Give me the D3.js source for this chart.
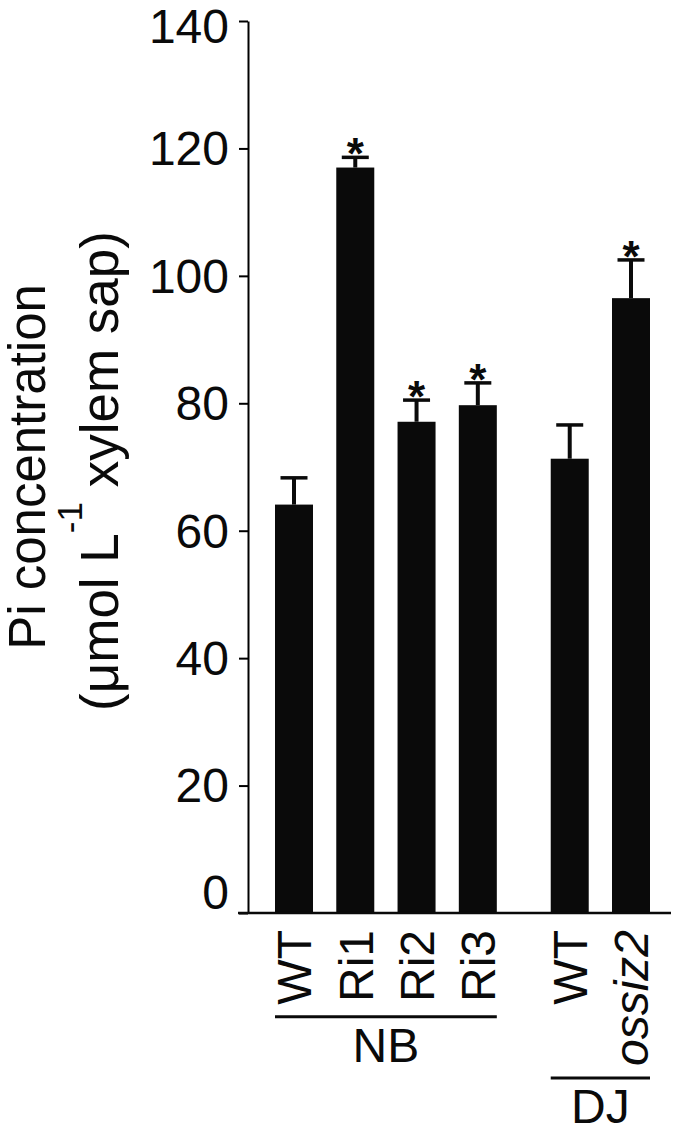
<!DOCTYPE html>
<html>
<head>
<meta charset="utf-8">
<script src="https://cdn.jsdelivr.net/npm/d3@7"></script>
<style>
  body { margin: 0; background: #fff; }
  text { font-family: "Liberation Sans", Arial, sans-serif; fill: #0a0a0a; }
</style>
</head>
<body>
<div id="chart-container"></div>
<script>
// data
const categories = ["WT", "Ri1", "Ri2", "Ri3", "WT", "ossiz2"];
const groups = ["NB", "NB", "NB", "NB", "DJ", "DJ"];
const italicLabel = [false, false, false, false, false, true];
const means = [64.1, 117.0, 77.1, 79.7, 71.3, 96.5];
const errors = [4.2, 1.6, 3.4, 3.5, 5.3, 6.0];
const significant = [false, true, true, true, false, true];
const yTicks = [0, 20, 40, 60, 80, 100, 120, 140];

const width = 675;
const height = 1137;
const axisX = 248;
const groupGap = 0.5;
const barWidth = 38;

// slot positions, with an extra gap between genotype groups
const slots = [];
groups.forEach((g, i) => {
  if (i === 0) slots.push(0);
  else slots.push(slots[i - 1] + 1 + (g !== groups[i - 1] ? groupGap : 0));
});

const data = categories.map((c, i) => ({
  name: c, group: groups[i], italic: italicLabel[i],
  mean: means[i], err: errors[i], sig: significant[i], slot: slots[i]
}));

const x = d3.scaleLinear([0, d3.max(slots)], [294, 631]);
const y = d3.scaleLinear([0, 140], [913, 21]);

const svg = d3.select("#chart-container")
  .append("svg")
  .attr("width", width)
  .attr("height", height)
  .attr("viewBox", [0, 0, width, height]);

// bars
svg.append("g")
  .attr("fill", "#0a0a0a")
  .selectAll("rect")
  .data(data)
  .join("rect")
  .attr("x", d => x(d.slot) - barWidth / 2)
  .attr("width", barWidth)
  .attr("y", d => y(d.mean))
  .attr("height", d => y(0) - y(d.mean));

// error bars (upper only)
const eb = svg.append("g").attr("stroke", "#0a0a0a");
eb.selectAll("line.stem")
  .data(data)
  .join("line")
  .attr("class", "stem")
  .attr("stroke-width", 4)
  .attr("x1", d => x(d.slot)).attr("x2", d => x(d.slot))
  .attr("y1", d => y(d.mean)).attr("y2", d => y(d.mean + d.err));
eb.selectAll("line.cap")
  .data(data)
  .join("line")
  .attr("class", "cap")
  .attr("stroke-width", 3.5)
  .attr("x1", d => x(d.slot) - 13.5).attr("x2", d => x(d.slot) + 13.5)
  .attr("y1", d => y(d.mean + d.err)).attr("y2", d => y(d.mean + d.err));

// significance stars
svg.append("g")
  .selectAll("text")
  .data(data.filter(d => d.sig))
  .join("text")
  .attr("text-anchor", "middle")
  .attr("font-weight", "bold")
  .attr("font-size", 44)
  .attr("x", d => x(d.slot))
  .attr("y", d => y(d.mean + d.err) + 12)
  .text("*");

// y axis
const yAxis = svg.append("g")
  .attr("transform", `translate(${axisX},0)`)
  .call(d3.axisLeft(y).tickValues(yTicks).tickSize(9).tickSizeOuter(0).tickPadding(10));
yAxis.select(".domain").attr("stroke-width", 2);
yAxis.selectAll(".tick line").attr("stroke-width", 2);
yAxis.selectAll(".tick text")
  .attr("font-size", 48)
  .attr("font-family", "Liberation Sans, Arial, sans-serif")
  .attr("fill", "#0a0a0a")
  .attr("dy", d => d === 0 ? "-0.1em" : d === 140 ? "0.45em" : "0.34em");

// x baseline
const lastRight = x(d3.max(slots)) + barWidth / 2;
svg.append("line")
  .attr("x1", axisX - 10).attr("x2", lastRight + 21)
  .attr("y1", y(0)).attr("y2", y(0))
  .attr("stroke", "#0a0a0a")
  .attr("stroke-width", 2.5);

// category labels, rotated
const labelTop = 930;
const labels = svg.append("g")
  .selectAll("text")
  .data(data)
  .join("text")
  .attr("transform", d => `translate(${x(d.slot)},${labelTop}) rotate(-90)`)
  .attr("text-anchor", "end")
  .attr("dy", "0.36em")
  .attr("font-size", 48)
  .attr("font-style", d => d.italic ? "italic" : "normal")
  .text(d => d.name);

const lengths = new Map();
labels.each(function (d) { lengths.set(d, this.getComputedTextLength()); });

// group brackets and names
const groupNames = Array.from(new Set(groups));
groupNames.forEach(g => {
  const members = data.filter(d => d.group === g);
  const left = x(d3.min(members, d => d.slot)) - barWidth / 2;
  const right = x(d3.max(members, d => d.slot)) + barWidth / 2;
  const lineY = labelTop + d3.max(members, d => lengths.get(d)) + 12;
  svg.append("line")
    .attr("x1", left).attr("x2", right)
    .attr("y1", lineY).attr("y2", lineY)
    .attr("stroke", "#0a0a0a")
    .attr("stroke-width", 3);
  svg.append("text")
    .attr("x", (left + right) / 2)
    .attr("y", lineY + 45)
    .attr("text-anchor", "middle")
    .attr("font-size", 48)
    .text(g);
});

// y axis title
svg.append("text")
  .attr("transform", "translate(45,467) rotate(-90)")
  .attr("text-anchor", "middle")
  .attr("font-size", 51)
  .text("Pi concentration");

const t2 = svg.append("text")
  .attr("transform", "translate(118,471) rotate(-90)")
  .attr("text-anchor", "middle")
  .attr("font-size", 53);
t2.append("tspan").text("(μmol L");
t2.append("tspan").attr("font-size", 35).attr("dy", -36).text("-1");
t2.append("tspan").attr("dy", 36).text(" xylem sap)");
</script>
</body>
</html>
